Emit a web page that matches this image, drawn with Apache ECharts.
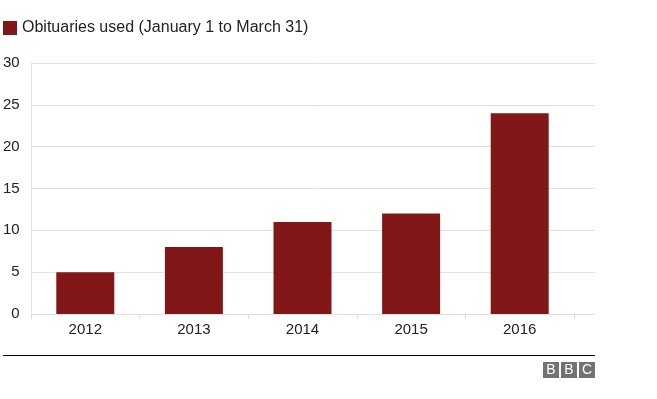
<!DOCTYPE html>
<html>
<head>
<meta charset="utf-8">
<script src="https://cdn.jsdelivr.net/npm/echarts@6/dist/echarts.min.js"></script>
<style>
  html, body { margin: 0; padding: 0; background: #fff; }
  #main { width: 657px; height: 399px; }
</style>
</head>
<body>
<div id="main"></div>
<script>
var years = ['2012', '2013', '2014', '2015', '2016'];
var obituaries = [5, 8, 11, 12, 24];
var seriesName = 'Obituaries used (January 1 to March 31)';

var barColor = '#821718';
var fontFamily = 'Liberation Sans, Helvetica, Arial, sans-serif';

var myChart = echarts.init(document.getElementById('main'));

var logoLetters = ['B', 'B', 'C'];
var logo = logoLetters.map(function (letter, i) {
    return {
        type: 'group',
        left: 543 + i * 18,
        top: 362,
        children: [
            { type: 'rect', shape: { x: 0, y: 0, width: 16, height: 16 }, style: { fill: '#727272' } },
            { type: 'text', x: 8, y: 8.5, style: { text: letter, fill: '#fff', font: '14px ' + fontFamily, align: 'center', verticalAlign: 'middle' } }
        ]
    };
});

var option = {
    animation: false,
    legend: {
        left: 3,
        top: 20,
        padding: 0,
        itemWidth: 14,
        itemHeight: 14,
        itemGap: 6,
        icon: 'rect',
        textStyle: { fontSize: 16, color: '#222', fontFamily: fontFamily },
        data: [seriesName]
    },
    grid: [
        { left: 31, right: 62, top: 63, height: 251 },
        { left: 31, width: 543, top: 63, height: 251 }
    ],
    xAxis: [
        {
            gridIndex: 0,
            type: 'value',
            show: false
        },
        {
            gridIndex: 1,
            type: 'category',
            data: years,
            axisLine: { show: false },
            axisTick: { show: true, length: 5, lineStyle: { color: '#ddd' } },
            axisLabel: { fontSize: 15, color: '#222', margin: 8, fontFamily: fontFamily }
        }
    ],
    yAxis: [
        {
            gridIndex: 0,
            type: 'value',
            min: 0,
            max: 30,
            interval: 5,
            axisLine: { show: true, lineStyle: { color: '#e2e2e2' } },
            axisTick: { show: false },
            splitLine: { lineStyle: { color: '#e2e2e2' } },
            axisLabel: { fontSize: 15, color: '#222', margin: 12, fontFamily: fontFamily }
        },
        {
            gridIndex: 1,
            type: 'value',
            min: 0,
            max: 30,
            interval: 5,
            show: false
        }
    ],
    series: [
        {
            name: seriesName,
            type: 'bar',
            xAxisIndex: 1,
            yAxisIndex: 1,
            data: obituaries,
            barWidth: 58,
            itemStyle: { color: barColor }
        }
    ],
    graphic: [
        {
            type: 'line',
            shape: { x1: 3, y1: 355.5, x2: 595, y2: 355.5 },
            style: { stroke: '#000', lineWidth: 1 }
        }
    ].concat(logo)
};

myChart.setOption(option);
</script>
</body>
</html>
